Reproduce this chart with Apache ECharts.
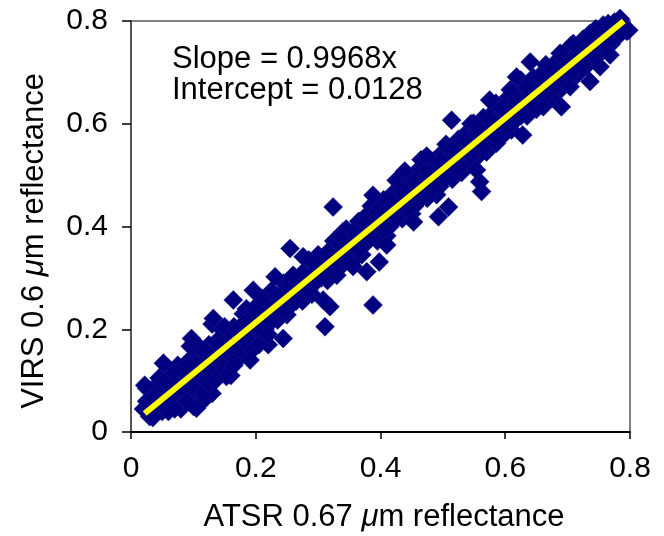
<!DOCTYPE html>
<html>
<head>
<meta charset="utf-8">
<script src="https://cdn.jsdelivr.net/npm/echarts@6/dist/echarts.min.js"></script>
<style>
html,body{margin:0;padding:0;background:#fff;}
#chart{width:664px;height:536px;}
</style>
</head>
<body>
<div id="chart"></div>
<script>
// Axis ticks
const xTicks = [0, 0.2, 0.4, 0.6, 0.8];
const yTicks = [0, 0.2, 0.4, 0.6, 0.8];

// Regression text
const slopeText = 'Slope = 0.9968x';
const interceptText = 'Intercept = 0.0128';

// Fitted line endpoints (ATSR, VIRS)
const fitLine = [[0.022, 0.036], [0.79, 0.80]];

// Scatter points (ATSR 0.67 um, VIRS 0.6 um)
const pointsA = [
[0.02,0.045],[0.03,0.030],[0.04,0.060],[0.05,0.040],[0.06,0.100],[0.07,0.070],[0.08,0.105],[0.09,0.078],
[0.10,0.148],[0.11,0.110],[0.12,0.136],[0.13,0.108],[0.14,0.180],[0.15,0.150],[0.16,0.186],[0.17,0.160],
[0.18,0.230],[0.19,0.190],[0.20,0.215],[0.21,0.188],[0.22,0.258],[0.23,0.230],[0.24,0.262],[0.25,0.228],
[0.26,0.300],[0.27,0.270],[0.28,0.298],[0.29,0.268],[0.30,0.345],[0.31,0.310],[0.32,0.336],[0.33,0.305],
[0.34,0.390],[0.35,0.348],[0.36,0.372],[0.37,0.345],[0.38,0.425],[0.39,0.388],[0.40,0.420],[0.41,0.382],
[0.42,0.465],[0.43,0.428],[0.44,0.455],[0.45,0.425],[0.46,0.510],[0.47,0.470],[0.48,0.498],[0.49,0.462],
[0.50,0.545],[0.51,0.508],[0.52,0.535],[0.53,0.505],[0.54,0.585],[0.55,0.548],[0.56,0.575],[0.57,0.545],
[0.58,0.622],[0.59,0.590],[0.60,0.615],[0.61,0.588],[0.62,0.662],[0.63,0.630],[0.64,0.655],[0.65,0.628],
[0.66,0.700],[0.67,0.668],[0.68,0.695],[0.69,0.668],[0.70,0.740],[0.71,0.708],[0.72,0.735],[0.73,0.712],
[0.74,0.772],[0.75,0.748],[0.76,0.775],[0.77,0.755],[0.78,0.798],[0.79,0.785]
];
const pointsB = [
[0.025,0.085],[0.035,0.028],[0.045,0.080],[0.055,0.050],[0.065,0.118],[0.075,0.062],[0.085,0.130],[0.095,0.088],
[0.105,0.160],[0.115,0.095],[0.125,0.170],[0.135,0.125],[0.145,0.200],[0.155,0.138],[0.165,0.205],[0.175,0.170],
[0.185,0.240],[0.195,0.176],[0.205,0.250],[0.215,0.200],[0.225,0.275],[0.235,0.218],[0.245,0.290],[0.255,0.245],
[0.265,0.285],[0.275,0.255],[0.285,0.335],[0.295,0.290],[0.305,0.330],[0.315,0.295],[0.325,0.372],[0.335,0.320],
[0.345,0.395],[0.355,0.332],[0.365,0.410],[0.375,0.365],[0.385,0.440],[0.395,0.372],[0.405,0.452],[0.415,0.400],
[0.425,0.490],[0.435,0.415],[0.445,0.492],[0.455,0.440],[0.465,0.530],[0.475,0.455],[0.485,0.528],[0.495,0.478],
[0.505,0.560],[0.515,0.492],[0.525,0.570],[0.535,0.520],[0.545,0.600],[0.555,0.535],[0.565,0.612],[0.575,0.560],
[0.585,0.640],[0.595,0.575],[0.605,0.652],[0.615,0.605],[0.625,0.685],[0.635,0.615],[0.645,0.690],[0.655,0.640],
[0.665,0.715],[0.675,0.650],[0.685,0.725],[0.695,0.680],[0.705,0.752],[0.715,0.695],[0.725,0.765],[0.735,0.720],
[0.745,0.785],[0.755,0.740],[0.765,0.795],[0.775,0.765],[0.785,0.803],[0.795,0.780]
];
const pointsC = [
[0.03,0.055],[0.05,0.070],[0.07,0.090],[0.09,0.110],[0.11,0.135],[0.13,0.150],[0.15,0.170],[0.17,0.190],
[0.19,0.205],[0.21,0.230],[0.23,0.245],[0.25,0.270],[0.27,0.285],[0.29,0.305],[0.31,0.330],[0.33,0.345],
[0.35,0.370],[0.37,0.385],[0.39,0.410],[0.41,0.425],[0.43,0.450],[0.45,0.465],[0.47,0.490],[0.49,0.505],
[0.51,0.530],[0.53,0.545],[0.55,0.570],[0.57,0.585],[0.59,0.610],[0.61,0.625],[0.63,0.650],[0.65,0.665],
[0.67,0.690],[0.69,0.705],[0.71,0.730],[0.73,0.745],[0.75,0.770],[0.77,0.785]
];
const pointsD = [
[0.045,0.072],[0.055,0.085],[0.065,0.062],[0.075,0.100],[0.085,0.080],[0.095,0.125],[0.105,0.098],[0.115,0.140],
[0.125,0.120],[0.135,0.160],[0.145,0.140],[0.155,0.180],[0.165,0.160],[0.175,0.205],[0.185,0.180],[0.195,0.225],
[0.205,0.195],[0.215,0.245],[0.225,0.215],[0.235,0.265],[0.245,0.235],[0.255,0.285],[0.265,0.255],[0.275,0.310],
[0.285,0.275],[0.295,0.330],[0.305,0.300],[0.315,0.350],[0.325,0.318],[0.335,0.365],[0.345,0.338],[0.355,0.390],
[0.365,0.355],[0.375,0.408],[0.385,0.378],[0.395,0.430],[0.405,0.395],[0.415,0.450],[0.425,0.415],[0.435,0.470],
[0.445,0.435],[0.455,0.490],[0.465,0.455],[0.475,0.510],[0.485,0.475],[0.495,0.530],[0.505,0.495],[0.515,0.550],
[0.525,0.515],[0.535,0.570],[0.545,0.535],[0.555,0.590],[0.565,0.555],[0.575,0.610],[0.585,0.575],[0.595,0.630],
[0.605,0.595],[0.615,0.650],[0.625,0.615],[0.635,0.670],[0.645,0.635],[0.655,0.690],[0.665,0.655],[0.675,0.710],
[0.685,0.675],[0.695,0.728],[0.705,0.695],[0.715,0.748],[0.725,0.715],[0.735,0.768],[0.745,0.735],[0.755,0.785],
[0.765,0.755],[0.775,0.798],[0.785,0.775]
];
const pointsLow = [
[0.025,0.060],[0.030,0.082],[0.040,0.090],[0.045,0.105],[0.059,0.125],[0.065,0.058],[0.075,0.130],[0.085,0.055],
[0.095,0.167],[0.100,0.070],[0.110,0.165],[0.120,0.085],[0.130,0.210],[0.140,0.120],[0.150,0.205],[0.160,0.135],
[0.040,0.040],[0.060,0.040],[0.080,0.045],[0.100,0.050],[0.115,0.060],[0.130,0.075],[0.160,0.110],[0.220,0.170],
[0.030,0.045],[0.035,0.065],[0.050,0.055],[0.055,0.100],[0.070,0.045],[0.070,0.115],[0.080,0.120],[0.090,0.060],
[0.090,0.135],[0.100,0.085],[0.105,0.130],[0.115,0.075],[0.120,0.155],[0.125,0.095],[0.135,0.100],[0.140,0.170],
[0.145,0.115],[0.150,0.125],[0.165,0.130],[0.170,0.200],[0.175,0.145],[0.180,0.155],[0.185,0.215],[0.195,0.160],
[0.200,0.240],[0.205,0.170],[0.210,0.260],[0.220,0.190]
];
const pointsEdge = [
[0.255,0.357],[0.231,0.302],[0.132,0.221],[0.311,0.205],[0.319,0.244],[0.388,0.247],[0.244,0.182],[0.191,0.140],
[0.153,0.108],[0.105,0.046],[0.035,0.030],[0.022,0.091],[0.052,0.134],[0.097,0.182],[0.164,0.257],[0.196,0.276],
[0.260,0.305],[0.276,0.341],[0.324,0.438],[0.335,0.380],[0.356,0.322],[0.378,0.312],[0.308,0.257],[0.410,0.364],
[0.398,0.331],[0.453,0.409],[0.493,0.419],[0.509,0.438],[0.562,0.468],[0.559,0.487],[0.388,0.461],[0.439,0.508],
[0.474,0.537],[0.514,0.607],[0.549,0.601],[0.575,0.646],[0.608,0.666],[0.618,0.691],[0.640,0.720],[0.688,0.737],
[0.709,0.756],[0.736,0.776],[0.757,0.792],[0.784,0.805],[0.798,0.782],[0.554,0.510],[0.586,0.562],[0.628,0.578],
[0.661,0.633],[0.690,0.633],[0.704,0.672],[0.736,0.682],[0.768,0.734],[0.752,0.711]
];

const allPoints = pointsA.concat(pointsB, pointsC, pointsD, pointsLow, pointsEdge);

const FONT = "'Liberation Sans', Arial, Helvetica, sans-serif";
const chart = echarts.init(document.getElementById('chart'), null, {renderer: 'canvas'});
chart.setOption({
  animation: false,
  backgroundColor: '#ffffff',
  grid: {left: 131, right: 34, top: 21, bottom: 104, show: true, borderColor: '#808080', borderWidth: 2, backgroundColor: 'transparent'},
  xAxis: {
    type: 'value', min: xTicks[0], max: xTicks[xTicks.length-1], interval: 0.2,
    splitLine: {show: false},
    axisLine: {show: true, onZero: false, lineStyle: {color: '#000', width: 2}},
    axisTick: {show: true, inside: false, length: 7, lineStyle: {color: '#000', width: 1.5}},
    axisLabel: {color: '#000', fontFamily: FONT, fontSize: 30, margin: 22, formatter: v => v === 0 ? '0' : v.toFixed(1)}
  },
  yAxis: {
    type: 'value', min: yTicks[0], max: yTicks[yTicks.length-1], interval: 0.2,
    splitLine: {show: false},
    axisLine: {show: true, onZero: false, lineStyle: {color: '#555', width: 2}},
    axisTick: {show: true, inside: false, length: 9, lineStyle: {color: '#000', width: 1.5}},
    axisLabel: {color: '#000', fontFamily: FONT, fontSize: 30, margin: 23, formatter: v => v === 0 ? '0' : v.toFixed(1)}
  },
  graphic: [
    {type: 'text', left: 172, top: 44, style: {text: slopeText, fill: '#000', font: '31px ' + FONT}},
    {type: 'text', left: 172, top: 75, style: {text: interceptText, fill: '#000', font: '31px ' + FONT}},
    {type: 'text', x: 384, y: 517, style: {
      text: '{n|ATSR 0.67 }{i|μ}{n|m reflectance}', align: 'center', verticalAlign: 'middle',
      rich: {n: {font: '31px ' + FONT, fill: '#000'}, i: {font: 'italic 31px ' + FONT, fill: '#000'}}
    }},
    {type: 'text', x: 34, y: 241, rotation: Math.PI / 2, style: {
      text: '{n|VIRS 0.6 }{i|μ}{n|m reflectance}', align: 'center', verticalAlign: 'middle',
      rich: {n: {font: '31px ' + FONT, fill: '#000'}, i: {font: 'italic 31px ' + FONT, fill: '#000'}}
    }}
  ],
  series: [
    {
      type: 'scatter', data: allPoints, symbol: 'diamond', symbolSize: 19, clip: false,
      itemStyle: {color: '#000080', borderColor: '#1c1c8c', borderWidth: 0.5, opacity: 1}, z: 2
    },
    {
      type: 'line', data: fitLine, symbol: 'none', clip: false,
      lineStyle: {color: '#ffff00', width: 6, cap: 'butt'}, z: 3
    }
  ]
});
</script>
</body>
</html>
